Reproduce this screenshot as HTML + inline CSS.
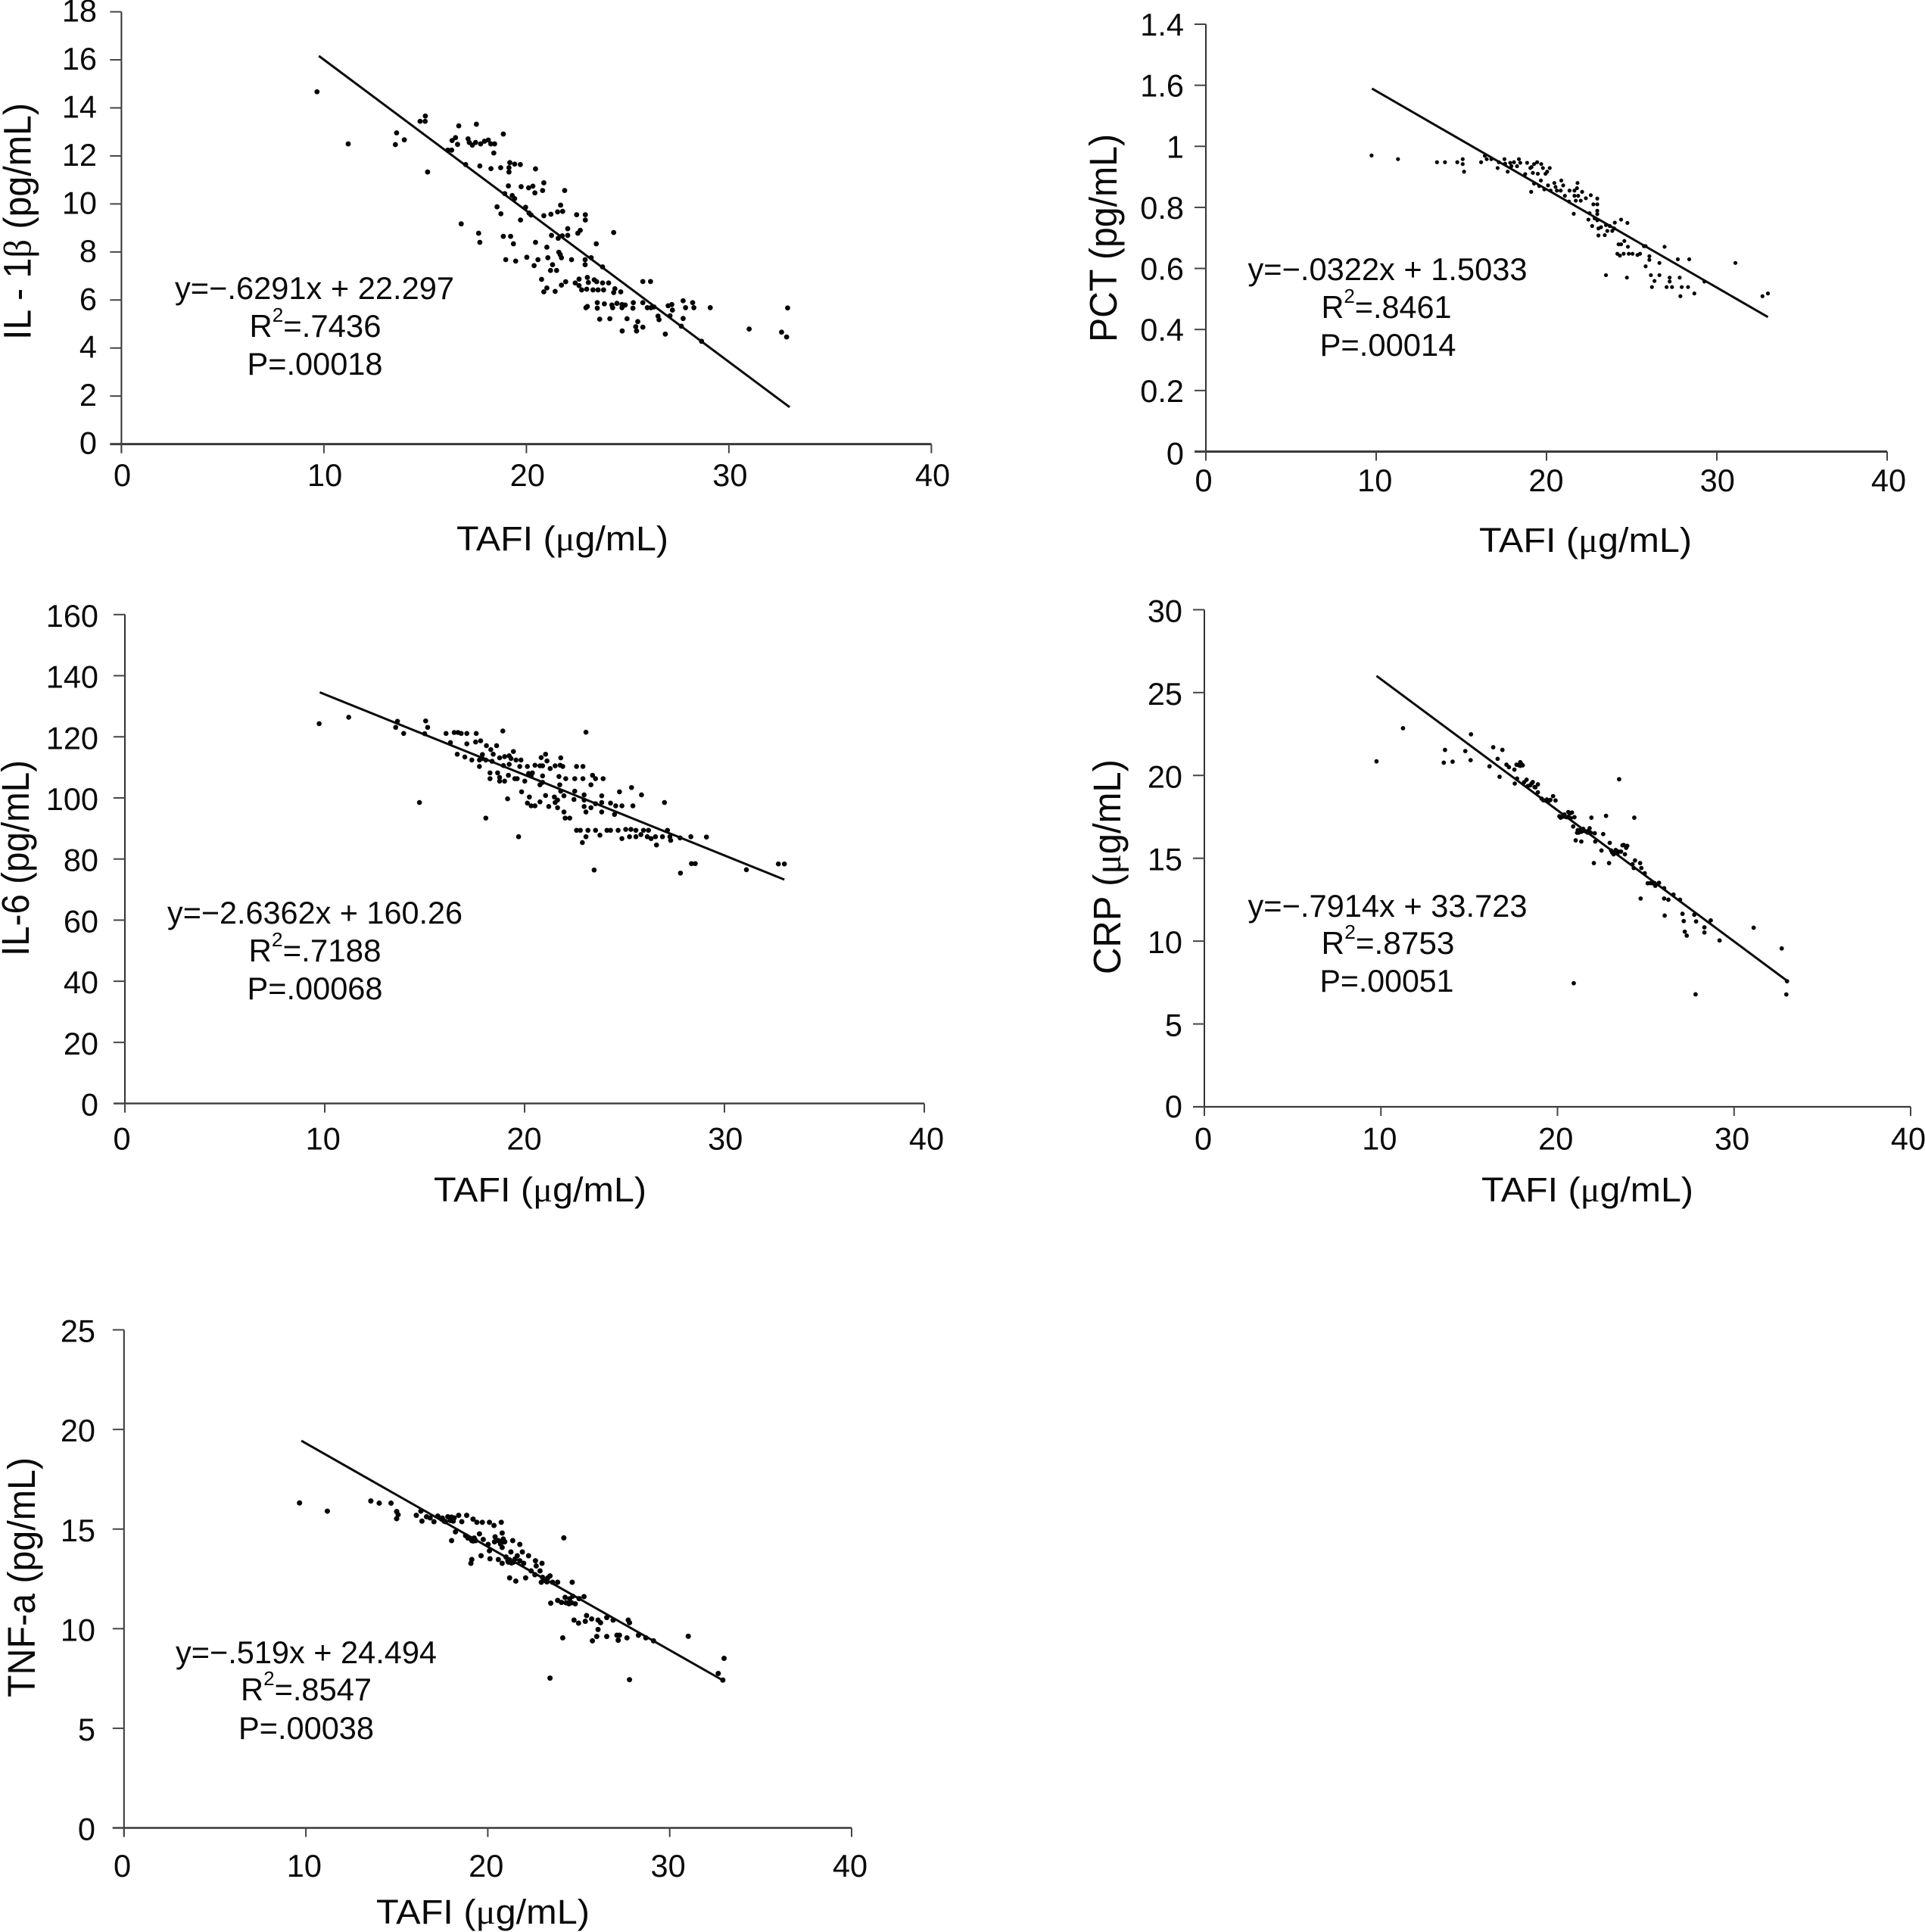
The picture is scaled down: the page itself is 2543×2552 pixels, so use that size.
<!DOCTYPE html>
<html lang="en">
<head>
<meta charset="utf-8">
<title>TAFI correlation scatter plots</title>
<style>
html,body{margin:0;padding:0;background:#fff;}
body{width:2543px;height:2552px;overflow:hidden;}
svg{display:block;}
text{font-family:"Liberation Sans",sans-serif;fill:#0a0a0a;}
.tick{font-size:41.5px;}
.note{font-size:41.5px;}
.xtitle{font-size:45px;}
.ytitle{font-size:51px;}
.sym{font-family:"Liberation Serif",serif;}
</style>
</head>
<body>
<svg id="figure" xmlns="http://www.w3.org/2000/svg" width="2543" height="2552" viewBox="0 0 2543 2552">
  <rect width="2543" height="2552" fill="#fff"/>

  <g id="panel-il1b">
    <text class="ytitle" transform="translate(40.5,449) rotate(-90)" textLength="313" lengthAdjust="spacingAndGlyphs">IL - 1<tspan class="sym">β</tspan> (pg/mL)</text>
    <text class="xtitle" x="603" y="727" textLength="280" lengthAdjust="spacingAndGlyphs">TAFI (<tspan class="sym">μ</tspan>g/mL)</text>
    <text class="note" x="231" y="395" textLength="369" lengthAdjust="spacingAndGlyphs">y=−.6291x + 22.297</text>
    <text class="note" x="329.5" y="445" textLength="174" lengthAdjust="spacingAndGlyphs">R<tspan font-size="26" dy="-20">2</tspan><tspan dy="20">=.7436</tspan></text>
    <text class="note" x="326.5" y="495" textLength="179" lengthAdjust="spacingAndGlyphs">P=.00018</text>
  </g>

  <g id="panel-pct">
    <text class="ytitle" transform="translate(1475,452) rotate(-90)" textLength="275" lengthAdjust="spacingAndGlyphs">PCT (pg/mL)</text>
    <text class="xtitle" x="1954" y="729" textLength="281" lengthAdjust="spacingAndGlyphs">TAFI (<tspan class="sym">μ</tspan>g/mL)</text>
    <text class="note" x="1648.5" y="370" textLength="369" lengthAdjust="spacingAndGlyphs">y=−.0322x + 1.5033</text>
    <text class="note" x="1745.5" y="420" textLength="172" lengthAdjust="spacingAndGlyphs">R<tspan font-size="26" dy="-20">2</tspan><tspan dy="20">=.8461</tspan></text>
    <text class="note" x="1743.5" y="470" textLength="180" lengthAdjust="spacingAndGlyphs">P=.00014</text>
  </g>

  <g id="panel-il6">
    <text class="ytitle" transform="translate(38,1263) rotate(-90)" textLength="259" lengthAdjust="spacingAndGlyphs">IL-6 (pg/mL)</text>
    <text class="xtitle" x="573" y="1587" textLength="281" lengthAdjust="spacingAndGlyphs">TAFI (<tspan class="sym">μ</tspan>g/mL)</text>
    <text class="note" x="221" y="1220" textLength="390" lengthAdjust="spacingAndGlyphs">y=−2.6362x + 160.26</text>
    <text class="note" x="328.5" y="1270" textLength="175" lengthAdjust="spacingAndGlyphs">R<tspan font-size="26" dy="-20">2</tspan><tspan dy="20">=.7188</tspan></text>
    <text class="note" x="326.5" y="1320" textLength="179" lengthAdjust="spacingAndGlyphs">P=.00068</text>
  </g>

  <g id="panel-crp">
    <text class="ytitle" transform="translate(1480,1287) rotate(-90)" textLength="284" lengthAdjust="spacingAndGlyphs">CRP (<tspan class="sym">μ</tspan>g/mL)</text>
    <text class="xtitle" x="1957" y="1587" textLength="280" lengthAdjust="spacingAndGlyphs">TAFI (<tspan class="sym">μ</tspan>g/mL)</text>
    <text class="note" x="1648.5" y="1211" textLength="369" lengthAdjust="spacingAndGlyphs">y=−.7914x + 33.723</text>
    <text class="note" x="1745.5" y="1260" textLength="176" lengthAdjust="spacingAndGlyphs">R<tspan font-size="26" dy="-20">2</tspan><tspan dy="20">=.8753</tspan></text>
    <text class="note" x="1743.5" y="1310" textLength="177" lengthAdjust="spacingAndGlyphs">P=.00051</text>
  </g>

  <g id="panel-tnf">
    <text class="ytitle" transform="translate(46,2242) rotate(-90)" textLength="317" lengthAdjust="spacingAndGlyphs">TNF-a (pg/mL)</text>
    <text class="xtitle" x="497" y="2541" textLength="282" lengthAdjust="spacingAndGlyphs">TAFI (<tspan class="sym">μ</tspan>g/mL)</text>
    <text class="note" x="232" y="2197" textLength="345" lengthAdjust="spacingAndGlyphs">y=−.519x + 24.494</text>
    <text class="note" x="318" y="2246" textLength="173" lengthAdjust="spacingAndGlyphs">R<tspan font-size="26" dy="-20">2</tspan><tspan dy="20">=.8547</tspan></text>
    <text class="note" x="315" y="2297" textLength="179" lengthAdjust="spacingAndGlyphs">P=.00038</text>
  </g>
</svg>

<script>
const xTickValues = [0, 10, 20, 30, 40];
const xTickLabels = ['0', '10', '20', '30', '40'];
const trendStart = 9.75;
const trendEnd = 33;

const il1bYTickValues = [0, 2, 4, 6, 8, 10, 12, 14, 16, 18];
const il1bYTickLabels = ['0', '2', '4', '6', '8', '10', '12', '14', '16', '18'];
const il1bSlope = -0.6291;
const il1bIntercept = 22.297;
const il1bTafi = [9.66,11.2,32.9,32.6,32.85,13.59,13.53,13.97,15.12,14.75,15.0,15.01,16.66,17.53,18.86,16.5,16.33,16.6,17.12,17.18,17.33,17.49,17.74,17.93,18.12,18.24,18.43,18.39,16.12,16.31,17.0,17.7,18.25,18.73,19.18,19.14,19.14,19.42,19.7,20.45,19.11,19.74,20.11,20.32,20.42,20.8,20.86,21.89,18.93,19.3,19.42,18.55,18.74,19.96,20.13,20.23,19.71,20.86,21.21,21.54,21.69,21.79,22.48,22.91,22.91,16.78,17.64,17.7,18.86,19.22,19.36,20.45,21.01,21.24,21.57,21.77,22.04,22.04,22.54,22.66,24.31,23.45,21.6,21.67,21.73,18.98,19.47,20.02,20.57,21.06,22.23,22.9,22.9,23.2,20.38,21.29,21.19,21.49,23.76,20.75,21.01,20.86,21.42,21.73,21.94,22.6,22.41,22.6,22.73,22.98,23.01,23.06,23.35,23.47,23.29,23.54,23.81,23.76,24.06,24.37,24.31,24.66,25.75,26.13,23.01,22.94,23.5,23.5,23.85,24.22,24.26,24.47,24.72,24.72,24.88,25.28,25.26,25.75,25.97,26.15,26.3,27.0,27.18,27.21,27.09,27.74,27.86,28.21,28.27,29.08,23.62,24.12,24.97,25.5,25.4,25.44,25.75,24.73,26.5,26.55,27.74,26.86,27.65,28.65,31.0];
const il1bValues = [14.67,12.5,5.67,4.66,4.46,12.96,12.47,12.67,11.33,13.44,13.44,13.66,13.25,13.32,12.91,12.76,12.64,12.48,12.71,12.56,12.45,12.56,12.5,12.61,12.66,12.5,12.5,12.12,12.24,12.24,11.64,11.58,11.47,11.51,11.72,11.51,11.33,11.66,11.64,11.46,10.75,10.72,10.67,10.74,10.46,10.56,10.88,10.56,10.43,10.35,10.22,9.88,9.59,9.86,9.62,9.54,9.33,9.51,9.57,9.67,9.95,9.69,9.55,9.55,9.33,9.17,8.78,8.4,8.65,8.65,8.34,8.4,8.2,8.69,8.57,8.67,8.69,8.97,8.78,8.9,8.81,8.34,7.99,7.89,7.76,7.68,7.62,7.78,7.68,7.76,7.68,7.68,7.47,7.76,7.43,7.47,7.23,7.23,7.38,6.86,6.5,6.34,6.36,6.62,6.76,6.87,6.71,6.6,6.42,6.45,6.94,6.73,6.84,6.76,6.42,6.42,6.42,6.71,6.71,6.47,6.31,6.34,6.77,6.77,5.73,5.68,5.89,5.66,5.84,5.79,5.68,5.86,5.81,5.68,5.79,5.89,5.66,5.89,5.68,5.68,5.71,5.76,5.81,5.58,5.34,5.97,5.68,5.89,5.68,5.68,5.2,5.22,5.22,5.1,4.89,4.71,4.87,4.71,5.33,5.18,5.23,4.58,4.91,4.28,4.79];

const pctYTickValues = [0, 0.2, 0.4, 0.6, 0.8, 1, 1.2, 1.4];
const pctYTickLabels = ['0', '0.2', '0.4', '0.6', '0.8', '1', '1.6', '1.4'];
const pctSlope = -0.0322;
const pctIntercept = 1.5033;
const pctTafi = [9.73,11.28,13.57,14.04,14.76,15.08,15.08,15.16,16.16,16.38,16.49,16.76,17.13,17.2,17.53,17.57,17.72,17.87,17.94,18.09,18.38,18.27,18.46,18.75,18.86,19.05,19.2,19.12,19.27,19.45,19.49,19.69,19.79,19.94,20.04,20.19,19.67,19.1,19.27,19.57,19.87,20.09,20.24,20.46,20.53,20.61,20.87,20.98,20.83,21.08,21.35,21.64,21.82,21.79,22.09,21.64,21.86,21.72,22.01,22.31,22.6,22.98,21.32,22.75,22.98,22.98,22.98,22.53,21.6,22.46,22.83,22.98,22.68,23.05,23.05,23.2,23.42,23.49,23.57,23.71,23.86,23.97,24.01,24.38,24.75,24.23,24.38,24.57,24.78,24.16,24.31,24.53,24.83,25.05,25.34,25.49,25.72,25.82,26.93,26.04,26.04,26.63,25.82,27.71,28.38,23.49,24.72,26.13,26.63,26.34,26.19,27.05,27.37,27.23,27.23,27.82,27.94,28.31,27.86,28.68,29.27,31.09,32.68,33.0];
const pctValues = [0.97,0.958,0.948,0.948,0.948,0.958,0.942,0.917,0.948,0.969,0.958,0.958,0.929,0.948,0.958,0.943,0.917,0.946,0.935,0.948,0.958,0.935,0.946,0.909,0.946,0.929,0.913,0.932,0.942,0.948,0.91,0.942,0.929,0.91,0.917,0.929,0.888,0.851,0.878,0.87,0.859,0.872,0.855,0.88,0.867,0.855,0.888,0.872,0.855,0.838,0.855,0.855,0.88,0.863,0.851,0.838,0.838,0.822,0.822,0.83,0.84,0.829,0.819,0.81,0.81,0.789,0.778,0.781,0.779,0.76,0.764,0.758,0.739,0.731,0.708,0.735,0.709,0.742,0.723,0.739,0.723,0.731,0.75,0.76,0.749,0.679,0.679,0.69,0.671,0.648,0.642,0.648,0.648,0.648,0.644,0.648,0.673,0.673,0.671,0.64,0.628,0.618,0.607,0.63,0.63,0.578,0.57,0.578,0.578,0.559,0.539,0.539,0.539,0.57,0.557,0.57,0.539,0.539,0.509,0.518,0.557,0.618,0.509,0.518];

const il6YTickValues = [0, 20, 40, 60, 80, 100, 120, 140, 160];
const il6YTickLabels = ['0', '20', '40', '60', '80', '100', '120', '140', '160'];
const il6Slope = -2.6362;
const il6Intercept = 160.26;
const il6Tafi = [9.72,11.2,13.64,13.55,13.95,15.05,15.15,15.0,16.29,16.07,16.48,16.67,16.83,17.11,17.58,18.91,23.07,17.11,17.55,17.8,18.09,18.31,18.6,16.63,17.01,17.36,17.74,17.89,17.89,17.74,18.43,18.06,18.37,18.75,19.0,19.44,19.23,19.32,19.57,19.82,18.94,19.23,19.76,20.14,20.52,20.77,20.9,20.83,21.05,21.12,21.81,21.28,21.53,21.78,21.91,22.6,22.92,18.27,18.65,18.27,18.75,18.75,19.0,19.19,19.51,19.63,20.01,20.2,20.39,20.33,20.9,20.9,20.77,21.72,22.06,22.51,22.92,23.4,23.55,23.93,21.76,23.32,19.85,20.24,19.15,20.14,20.33,20.52,20.77,21.05,21.49,21.65,21.53,21.21,21.65,21.97,21.81,22.51,22.47,22.98,22.98,22.98,23.32,23.55,23.86,23.86,24.3,24.56,24.87,24.75,25.35,25.85,25.42,27.0,23.07,23.86,24.5,21.97,22.03,22.26,14.74,18.06,19.7,22.6,22.79,23.17,23.55,24.12,24.3,24.68,25.06,25.32,25.57,25.95,26.2,27.15,23.07,23.77,22.89,24.87,25.25,25.57,25.82,26.14,26.33,26.55,26.9,27.27,27.31,27.78,28.32,26.6,23.48,27.8,28.35,28.54,29.1,31.1,32.7,33.0];
const il6Values = [124.3,126.4,125.1,123.1,121.1,125.2,123.1,121.0,118.1,121.1,121.4,121.4,121.1,121.1,121.1,121.9,121.5,117.7,118.3,118.7,117.1,115.8,117.1,114.3,113.4,112.4,112.4,114.2,112.9,110.3,114.3,112.4,112.0,113.1,113.5,115.2,113.8,112.9,112.4,112.4,110.6,111.0,110.3,110.3,110.7,110.5,110.5,113.2,114.3,112.1,113.1,109.6,110.5,110.7,110.3,110.3,110.3,108.2,108.2,106.3,106.7,105.5,105.5,107.4,106.3,106.3,105.5,108.0,108.2,107.2,107.2,105.1,104.3,107.0,106.3,106.3,106.3,107.4,106.3,106.3,104.3,104.3,102.0,100.3,99.7,98.3,97.4,97.4,98.7,100.8,100.3,99.3,98.5,97.2,96.8,100.7,102.2,102.2,99.5,101.0,99.3,97.2,96.8,98.1,100.7,98.5,98.3,97.4,97.4,102.0,103.4,101.0,97.4,98.5,95.4,95.4,94.6,95.4,93.4,93.4,98.5,93.4,87.3,89.4,89.4,89.4,89.4,89.4,89.4,89.4,89.7,89.7,89.4,89.4,89.4,89.4,87.3,87.8,85.4,86.7,87.3,87.3,88.0,87.3,86.7,87.3,87.3,87.3,86.1,86.9,87.3,84.6,76.4,75.4,78.5,78.5,87.2,76.5,78.4,78.4];

const crpYTickValues = [0, 5, 10, 15, 20, 25, 30];
const crpYTickLabels = ['0', '5', '10', '15', '20', '25', '30'];
const crpSlope = -0.7914;
const crpIntercept = 33.723;
const crpTafi = [9.75,11.25,15.1,13.63,13.56,14.06,14.78,15.08,16.15,16.36,16.88,16.61,16.72,17.11,17.25,17.56,17.68,17.89,17.89,18.03,17.71,17.58,18.11,18.25,18.32,18.53,18.89,18.75,18.89,19.1,19.32,19.6,19.75,19.89,20.11,20.39,20.61,20.82,20.96,20.18,20.53,20.75,20.89,21.11,21.25,21.46,21.61,21.82,21.89,22.11,22.59,21.92,22.75,24.35,21.03,21.35,22.14,22.49,22.96,23.04,23.18,23.25,23.46,23.68,23.89,23.82,22.06,22.92,23.49,24.25,24.39,24.32,24.68,24.75,24.94,25.11,25.39,25.54,25.75,26.04,24.71,26.04,26.28,26.57,26.94,26.07,27.08,27.75,27.15,27.85,28.68,27.21,27.32,28.32,28.32,29.18,20.92,27.82,31.11,32.7,33.0,32.96,20.25,20.32,20.45,20.6,20.7,21.15,21.2,21.35,21.5,21.7,21.75,23.1,23.3,23.4,23.6,23.75,23.95,19.2,19.4,19.5,18.45,18.6,18.7,17.95,17.8,25.25,25.5];
const crpValues = [20.85,22.85,22.48,21.54,20.77,20.83,21.47,20.92,20.55,21.7,21.54,21.0,19.92,20.65,20.5,20.35,20.65,20.8,20.58,20.61,19.81,19.51,19.59,19.74,19.36,19.51,19.46,19.28,18.98,18.6,18.49,18.52,18.75,18.49,17.53,17.64,17.79,17.76,17.48,17.45,17.48,17.42,16.92,16.54,16.69,16.77,16.62,16.81,16.54,16.51,16.46,17.45,17.56,17.45,16.08,16.01,16.01,15.47,15.93,15.47,15.24,15.4,15.4,15.78,15.63,15.24,14.71,14.71,19.77,14.64,14.87,14.41,14.71,14.41,14.1,13.49,13.49,13.34,13.52,13.19,12.57,12.57,12.5,12.81,12.5,11.54,11.65,11.59,11.21,11.19,11.25,10.57,10.33,10.83,10.52,10.04,7.46,6.79,10.81,9.56,7.58,6.78,17.5,17.52,17.5,17.5,17.7,16.7,16.55,16.6,16.65,16.55,16.65,15.35,15.5,15.3,15.4,15.8,15.75,18.5,18.55,18.45,19.4,19.6,19.3,20.7,20.62,13.5,13.5];

const tnfYTickValues = [0, 5, 10, 15, 20, 25];
const tnfYTickLabels = ['0', '5', '10', '15', '20', '25'];
const tnfSlope = -0.519;
const tnfIntercept = 24.494;
const tnfTafi = [9.65,11.18,13.57,14.03,14.68,14.99,15.07,14.99,16.07,16.32,16.38,16.63,16.83,17.04,17.25,17.46,17.67,17.8,17.94,18.15,18.4,18.57,18.84,19.19,19.4,19.7,20.09,20.34,20.74,18.22,18.78,18.01,18.91,19.12,19.33,19.54,19.75,20.02,20.4,20.37,20.58,20.79,20.79,20.93,20.79,21.37,21.76,20.09,19.12,19.07,19.63,20.12,20.58,20.79,21.0,21.13,21.27,21.41,21.62,21.76,21.97,21.9,22.24,22.62,22.98,22.66,22.38,22.59,22.87,23.01,22.94,23.21,23.42,23.56,23.84,21.2,21.54,22.08,24.64,24.18,23.46,23.84,24.05,24.25,24.46,24.67,24.81,25.02,25.29,24.74,24.99,25.36,25.43,25.71,26.06,26.2,26.54,26.89,27.72,27.79,26.06,25.99,25.75,26.54,27.1,27.17,27.24,27.65,28.28,28.69,29.11,24.12,31.02,23.42,27.79,32.99,32.67,32.92,23.1,23.3,23.25,21.1,21.3,21.5,21.2,19.2,19.25,20.7,20.85,17.5,17.6,18.0,18.1,24.3,24.5,24.6];
const tnfValues = [16.31,15.9,16.41,16.3,16.3,15.88,15.72,15.52,15.69,15.9,15.4,15.62,15.56,15.37,15.65,15.5,15.37,15.62,15.43,15.56,15.69,15.37,15.69,15.5,15.34,15.34,15.34,15.18,15.34,14.86,14.67,14.42,14.55,14.42,14.42,14.76,14.48,14.23,14.61,14.36,14.42,14.8,14.36,14.36,14.08,14.42,14.23,13.91,13.47,13.28,13.66,13.51,13.47,13.28,13.6,13.34,13.85,13.34,13.66,13.41,13.28,13.85,13.66,13.41,13.28,13.15,12.9,12.71,12.9,12.58,12.33,12.39,12.65,12.33,12.33,12.55,12.39,12.55,12.33,14.56,11.28,11.42,11.32,11.57,11.25,11.63,11.25,11.51,11.61,10.43,10.28,10.37,10.66,10.49,10.43,10.3,10.56,10.43,10.43,10.3,9.96,9.61,9.39,9.61,9.67,9.42,9.67,9.54,9.67,9.54,9.39,9.54,9.62,7.52,7.44,8.51,7.75,7.42,12.45,12.55,12.35,13.4,13.3,13.5,13.45,14.4,14.55,14.25,14.5,15.55,15.4,15.6,15.4,11.3,11.5,11.3];

const SVG_NS = 'http://www.w3.org/2000/svg';

function makeScale(domainMax, pixelStart, pixelEnd) {
  return function (value) {
    return pixelStart + (value / domainMax) * (pixelEnd - pixelStart);
  };
}

function addLine(parent, x1, y1, x2, y2, stroke, width, name) {
  const el = document.createElementNS(SVG_NS, 'line');
  el.setAttribute('x1', x1);
  el.setAttribute('y1', y1);
  el.setAttribute('x2', x2);
  el.setAttribute('y2', y2);
  el.setAttribute('stroke', stroke);
  el.setAttribute('stroke-width', width);
  
  
  parent.appendChild(el);
}

function addTickLabel(parent, x, y, anchor, content, name) {
  const el = document.createElementNS(SVG_NS, 'text');
  el.setAttribute('class', 'tick');
  el.setAttribute('x', x);
  el.setAttribute('y', y);
  el.setAttribute('text-anchor', anchor);
  el.textContent = content;
  
  
  parent.appendChild(el);
}

function drawPanel(box, series) {
  const parent = document.getElementById(box.id);
  const xScale = makeScale(40, box.xLeft, box.xRight);
  const yScale = makeScale(box.yMax, box.yBottom, box.yTop);
  const xLabelScale = makeScale(40, box.xLabelLeft, box.xLabelRight);

  addLine(parent, box.xLeft, box.yTop, box.xLeft, box.yBottom + 12, '#333', 2, box.key + '-y-axis');
  addLine(parent, box.xLeft - 15, box.yBottom, box.xRight, box.yBottom, '#3a3a3a', box.xAxisWidth, box.key + '-x-axis');

  series.yTicks.forEach(function (tick, i) {
    const py = yScale(tick);
    const zeroNudge = tick === 0 ? box.zeroNudge : 0;
    addLine(parent, box.xLeft - 15, py, box.xLeft, py, '#444', 2, box.key + '-y-tick');
    addTickLabel(parent, box.labelRight, py + box.labelDrop + zeroNudge, 'end', series.yLabels[i], box.key + '-y-tick-label');
  });

  xTickValues.forEach(function (tick, i) {
    const px = xScale(tick);
    addLine(parent, px, box.yBottom, px, box.yBottom + 12, '#444', 2, box.key + '-x-tick');
    addTickLabel(parent, xLabelScale(tick), box.xLabelY, 'middle', xTickLabels[i], box.key + '-x-tick-label');
  });

  series.tafi.forEach(function (tafi, i) {
    const dot = document.createElementNS(SVG_NS, 'circle');
    dot.setAttribute('cx', xScale(tafi));
    dot.setAttribute('cy', yScale(series.values[i]));
    dot.setAttribute('r', box.dotRadius);
    dot.setAttribute('fill', '#050505');
    
    
    parent.appendChild(dot);
  });

  addLine(
    parent,
    xScale(trendStart), yScale(series.slope * trendStart + series.intercept),
    xScale(trendEnd), yScale(series.slope * trendEnd + series.intercept),
    '#0a0a0a', 3, box.key + '-trend-line'
  );
}

drawPanel(
  { id: 'panel-il1b', key: 'il-1b', xLeft: 160.4, xRight: 1230.4, yBottom: 586.6, yTop: 15.6, yMax: 18, labelRight: 128, labelDrop: 13, zeroNudge: 0, xLabelLeft: 161.5, xLabelRight: 1232, xLabelY: 642, dotRadius: 3.4, xAxisWidth: 3 },
  { tafi: il1bTafi, values: il1bValues, yTicks: il1bYTickValues, yLabels: il1bYTickLabels, slope: il1bSlope, intercept: il1bIntercept }
);
drawPanel(
  { id: 'panel-pct', key: 'pct', xLeft: 1593, xRight: 2493, yBottom: 596.5, yTop: 32, yMax: 1.4, labelRight: 1564, labelDrop: 15, zeroNudge: 2, xLabelLeft: 1590, xLabelRight: 2495, xLabelY: 649, dotRadius: 2.6, xAxisWidth: 3 },
  { tafi: pctTafi, values: pctValues, yTicks: pctYTickValues, yLabels: pctYTickLabels, slope: pctSlope, intercept: pctIntercept }
);
drawPanel(
  { id: 'panel-il6', key: 'il-6', xLeft: 165, xRight: 1221, yBottom: 1457.6, yTop: 811.8, yMax: 160, labelRight: 130, labelDrop: 16, zeroNudge: 0, xLabelLeft: 161, xLabelRight: 1224, xLabelY: 1518.5, dotRadius: 3.3, xAxisWidth: 2.4 },
  { tafi: il6Tafi, values: il6Values, yTicks: il6YTickValues, yLabels: il6YTickLabels, slope: il6Slope, intercept: il6Intercept }
);
drawPanel(
  { id: 'panel-crp', key: 'crp', xLeft: 1591, xRight: 2524, yBottom: 1462, yTop: 805.4, yMax: 30, labelRight: 1562, labelDrop: 16, zeroNudge: -2, xLabelLeft: 1589.5, xLabelRight: 2521, xLabelY: 1518.5, dotRadius: 2.9, xAxisWidth: 2.2 },
  { tafi: crpTafi, values: crpValues, yTicks: crpYTickValues, yLabels: crpYTickLabels, slope: crpSlope, intercept: crpIntercept }
);
drawPanel(
  { id: 'panel-tnf', key: 'tnf-a', xLeft: 163.8, xRight: 1125, yBottom: 2414.5, yTop: 1756.6, yMax: 25, labelRight: 126, labelDrop: 16, zeroNudge: 0, xLabelLeft: 161.5, xLabelRight: 1123, xLabelY: 2479, dotRadius: 3.5, xAxisWidth: 2.6 },
  { tafi: tnfTafi, values: tnfValues, yTicks: tnfYTickValues, yLabels: tnfYTickLabels, slope: tnfSlope, intercept: tnfIntercept }
);
</script>
</body>
</html>
